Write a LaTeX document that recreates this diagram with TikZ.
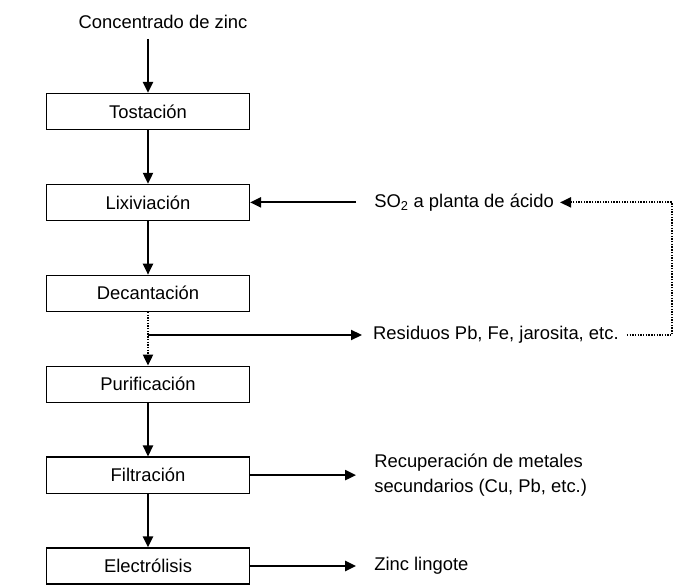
\documentclass[tikz,border=0pt]{standalone}
\usepackage{fontspec}
\setmainfont{Liberation Sans}
\usetikzlibrary{arrows.meta,positioning}

\begin{document}
\begin{tikzpicture}[
			x=1pt,y=-1pt,
			node distance=53.7pt,
			procBox/.style={draw,line width=1.2pt,minimum width=203pt,minimum height=36pt,inner sep=0pt,font=\fontsize{18.4}{22}\selectfont},
			sideText/.style={anchor=west,inner sep=0pt,align=left,font=\fontsize{18.4}{25.5}\selectfont},
			flowArrow/.style={line width=2.2pt,-{Triangle[length=11pt,width=10pt]}},
			backFlow/.style={line width=2pt,dash pattern=on 1.4pt off 1.3pt,-{Triangle[length=11pt,width=10pt]}}]
		\useasboundingbox (0,0) rectangle (694,585);
		\node [font=\fontsize{18.4}{22}\selectfont,inner xsep=0pt,inner ysep=10pt] (conc) at (163,22) {Concentrado de zinc};
		\node [procBox] (tost) at (148,111.5) {Tostación};
		\node [procBox,below=of tost] (lix) {Lixiviación};
		\node [procBox,below=of lix] (dec) {Decantación};
		\node [procBox,below=of dec] (pur) {Purificación};
		\node [procBox,below=of pur] (filt) {Filtración};
		\node [procBox,below=of filt] (elec) {Electrólisis};
		\node [sideText,right=124pt of lix] (so2) {SO\textsubscript{2} a planta de ácido};
		\node [sideText] (res) at (373,335) {Residuos Pb, Fe, jarosita, etc.};
		\node [sideText,right=124pt of filt] (rec) {Recuperación de metales\\secundarios (Cu, Pb, etc.)};
		\node [sideText,right=124pt of elec] (zinc) {Zinc lingote};
		\coordinate (br) at (dec.south |- res.west);
		\coordinate (fbCorner) at (672,335);
		\draw [flowArrow] (conc.south -| tost.north) -- (tost);
		\draw [flowArrow] (tost) -- (lix);
		\draw [flowArrow] (lix) -- (dec);
		\draw [backFlow] (dec) -- (pur);
		\draw [flowArrow] (pur) -- (filt);
		\draw [flowArrow] (filt) -- (elec);
		\draw [flowArrow] ([xshift=-18pt]so2.west) -- (lix);
		\draw [flowArrow] (br) -- ([xshift=-11pt]res.west);
		\draw [flowArrow] (filt) -- ([xshift=-18pt]rec.west);
		\draw [flowArrow] (elec) -- ([xshift=-18pt]zinc.west);
		\draw [backFlow] ([xshift=8pt]res.east) -- (fbCorner) |- ([xshift=6pt]so2.east);
	\end{tikzpicture}
\end{document}
